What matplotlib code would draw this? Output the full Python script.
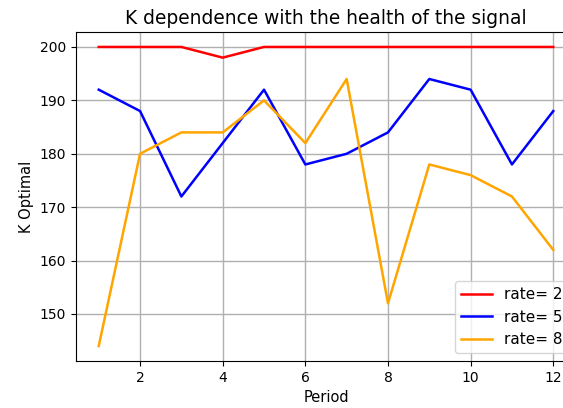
import matplotlib
matplotlib.use("Agg")
import matplotlib.pyplot as plt

periods = list(range(1, 13))
k_rate2 = [200, 200, 200, 198, 200, 200, 200, 200, 200, 200, 200, 200]
k_rate5 = [192, 188, 172, 182, 192, 178, 180, 184, 194, 192, 178, 188]
k_rate8 = [144, 180, 184, 184, 190, 182, 194, 152, 178, 176, 172, 162]
labels = ["rate= 2", "rate= 5", "rate= 8"]

W, H = 563, 408
fig = plt.figure(figsize=(W / 100, H / 100), dpi=100)
# axes run past the right edge, as in the cropped original
ax = fig.add_axes([76 / W, 1 - 361 / H, 500 / W, 329 / H])

ax.plot(periods, k_rate2, color="red", linewidth=1.8, label=labels[0])
ax.plot(periods, k_rate5, color="blue", linewidth=1.8, label=labels[1])
ax.plot(periods, k_rate8, color="orange", linewidth=1.8, label=labels[2])

ax.grid(True, color="#b0b0b0", linewidth=1)
ax.set_title("K dependence with the health of the signal", fontsize=13.4)
ax.set_xlabel("Period", fontsize=10.5)
ax.set_ylabel("K Optimal", fontsize=10.5)
ax.legend(loc="lower right", fontsize=11)

fig.savefig("out.png", dpi=100)
